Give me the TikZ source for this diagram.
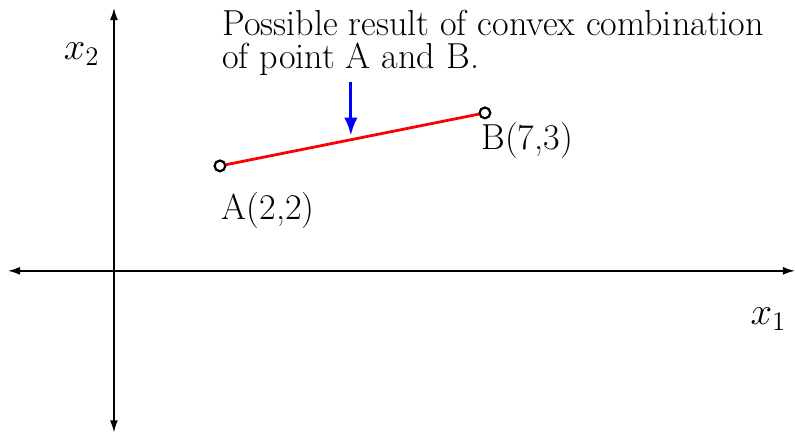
\documentclass[tikz,border=0pt]{standalone}
\usepackage{amsmath}
\usepackage{tikz}
\usetikzlibrary{arrows.meta, positioning, calc}

\begin{document}
\begin{tikzpicture}[>={Latex[length=2.3mm,width=1.5mm]}, thick, font=\fontsize{19.4}{17.7}\selectfont]
  \useasboundingbox (-2.15,-3.08) rectangle (12.85,5.11);
  \tikzset{pt/.style={circle, draw=black, line width=1.1pt, fill=white, inner sep=0pt, minimum size=2mm},
           lab/.style={anchor=base west, inner sep=0pt}}
  % Axes
  \coordinate (xl) at (-2.0,0);
  \coordinate (xr) at (12.85,0);
  \coordinate (yb) at (0,-3.05);
  \coordinate (yt) at (0,4.96);
  \draw[<->] (xl) -- (xr);
  \draw[<->] (yb) -- (yt);
  \node[lab] (xone) at (12.0,-1.02) {\fontsize{21.5}{24}\selectfont $x_1$};
  \node[lab] (xtwo) at (-0.96,3.98) {\fontsize{21.5}{24}\selectfont $x_2$};
  % Segment between the two points
  \node[pt] (A) at (2,1.98) {};
  \node[pt] (B) at (7,2.98) {};
  \draw[red, line width=1.5pt] (A) -- (B);
  \node[pt] at (A) {};
  \node[pt] at (B) {};
  \node[lab] (Alab) at ($(A)+(0.02,-1.02)$) {A(2,2)};
  \node[lab] (Blab) at ($(B)+(-0.08,-0.70)$) {B(7,3)};
  % Explanation with arrow
  \node[anchor=north west, align=left, inner sep=0pt] (txt) at (2.03,4.93)
    {Possible result of convex combination\\of point A and B.};
  \coordinate (arrtop) at (4.47,3.57);
  \coordinate (arrend) at (4.47,2.55);
  \draw[-{Latex[length=3.4mm,width=2.5mm]}, blue, line width=1.6pt] (arrtop) -- (arrend);
\end{tikzpicture}
\end{document}
